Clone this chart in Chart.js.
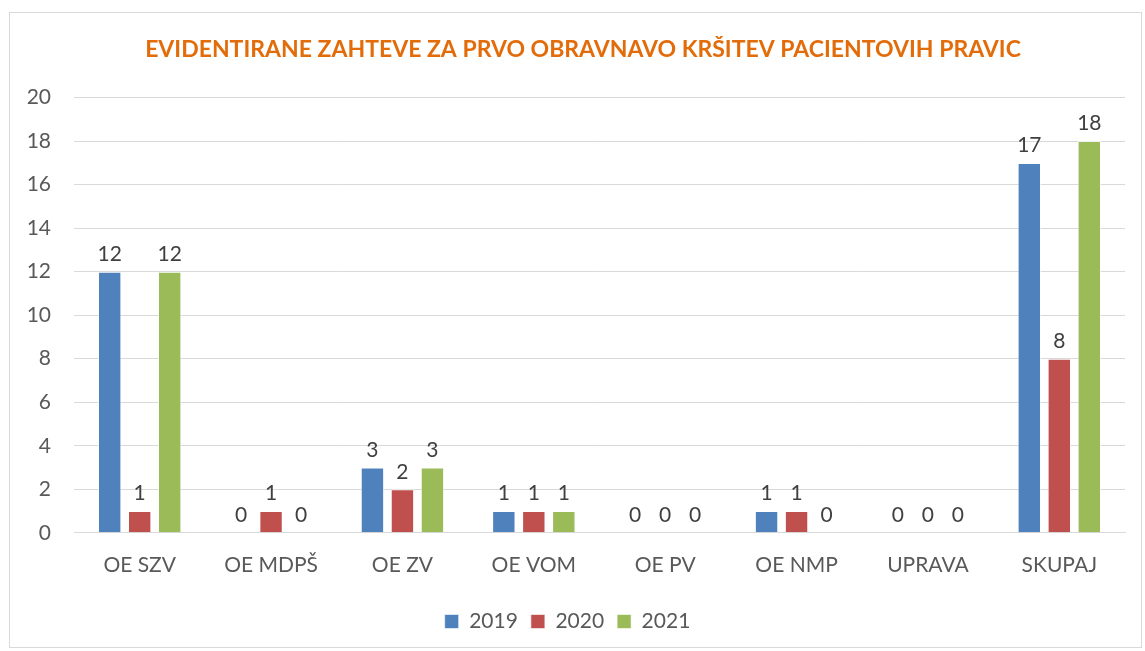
<!DOCTYPE html>
<html>
<head>
<meta charset="utf-8">
<script src="https://cdn.jsdelivr.net/npm/chart.js@4"></script>
<style>
html,body{margin:0;padding:0;background:#fff;}
#wrap{position:absolute;left:9px;top:12px;width:1133px;height:636px;border:1px solid #d9d9d9;box-sizing:border-box;}
</style>
</head>
<body>
<div id="wrap"><canvas id="c"></canvas></div>
<script>
const categories = ["OE SZV","OE MDPŠ","OE ZV","OE VOM","OE PV","OE NMP","UPRAVA","SKUPAJ"];
const seriesNames = ["2019","2020","2021"];
const values2019 = [12,0,3,1,0,1,0,17];
const values2020 = [1,1,2,1,0,1,0,8];
const values2021 = [12,0,3,1,0,0,0,18];
const colors = ["#4F81BD","#C0504D","#9BBB59"];
const titleText = "EVIDENTIRANE ZAHTEVE ZA PRVO OBRAVNAVO KRŠITEV PACIENTOVIH PRAVIC";
const FONT = "Lato, 'Liberation Sans', sans-serif";
const TITLE_FONT = "bold 23px " + FONT;

const labelPlugin = {
  id: 'valueLabels',
  afterDatasetsDraw(chart) {
    const ctx = chart.ctx;
    ctx.save();
    ctx.font = "21px " + FONT;
    ctx.fillStyle = "#404040";
    ctx.textAlign = "center";
    ctx.textBaseline = "bottom";
    chart.data.datasets.forEach((ds, i) => {
      const meta = chart.getDatasetMeta(i);
      meta.data.forEach((el, j) => {
        ctx.fillText(String(ds.data[j]), el.x, el.y - 7);
      });
    });
    ctx.restore();
  }
};

const titlePlugin = {
  id: 'titleDraw',
  afterDraw(chart) {
    const tb = chart.titleBlock;
    const ctx = chart.ctx;
    ctx.save();
    ctx.font = TITLE_FONT;
    ctx.fillStyle = "#E36C0A";
    ctx.textAlign = "center";
    ctx.textBaseline = "middle";
    const y = tb.top + tb.options.padding.top + 23 * 1.2 / 2;
    ctx.fillText(titleText, 573, y);
    ctx.restore();
  }
};

const vals = [values2019, values2020, values2021];
new Chart(document.getElementById('c'), {
  type: 'bar',
  data: {
    labels: categories,
    datasets: seriesNames.map((n, i) => ({
      label: n,
      data: vals[i],
      backgroundColor: colors[i],
      borderColor: "rgba(255,255,255,0.6)",
      borderWidth: 1,
      categoryPercentage: 0.685,
      barPercentage: 0.78
    }))
  },
  options: {
    responsive: true,
    maintainAspectRatio: false,
    animation: false,
    layout: { padding: { left: 0, right: 16, top: 0, bottom: 5 } },
    plugins: {
      title: {
        display: true,
        text: titleText,
        color: "rgba(0,0,0,0)",
        font: { family: FONT, size: 23, weight: 'bold' },
        padding: { top: 23, bottom: 34 }
      },
      legend: {
        position: 'bottom',
        labels: {
          color: "#595959",
          font: { family: FONT, size: 21 },
          boxWidth: 14, boxHeight: 14,
          padding: 13
        }
      },
      tooltip: { enabled: false }
    },
    scales: {
      x: {
        grid: { display: false, drawTicks: false },
        border: { color: "#d9d9d9", width: 1 },
        ticks: { color: "#595959", font: { family: FONT, size: 21 }, padding: 20 }
      },
      y: {
        min: 0, max: 20,
        ticks: { stepSize: 2, color: "#595959", font: { family: FONT, size: 21 }, padding: 23 },
        grid: { color: "#d9d9d9", drawTicks: false },
        border: { display: false },
        afterFit(scale) { scale.width = 64; }
      }
    }
  },
  plugins: [labelPlugin, titlePlugin]
});
</script>
</body>
</html>
